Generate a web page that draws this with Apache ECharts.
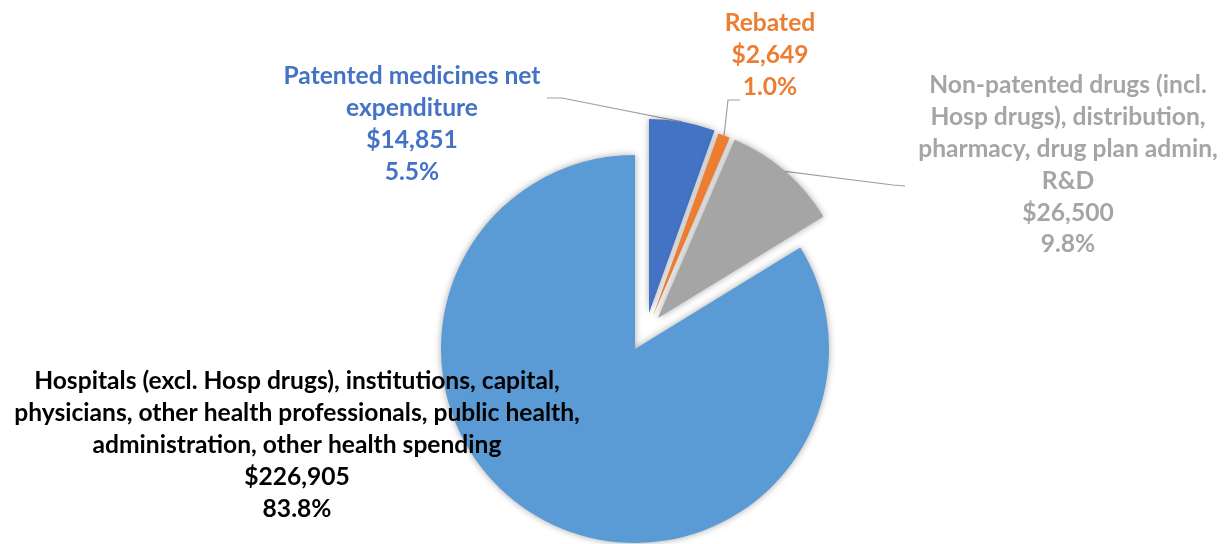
<!DOCTYPE html>
<html>
<head>
<meta charset="utf-8">
<script src="https://cdn.jsdelivr.net/npm/echarts@6/dist/echarts.min.js"></script>
<style>
html,body{margin:0;padding:0;background:#fff;}
#chart{width:1230px;height:544px;}
</style>
</head>
<body>
<div id="chart"></div>
<script>
// ---- data ----
const categories = [
  'Patented medicines net\nexpenditure',
  'Rebated',
  'Non-patented drugs (incl.\nHosp drugs), distribution,\npharmacy, drug plan admin,\nR&D',
  'Hospitals (excl. Hosp drugs), institutions, capital,\nphysicians, other health professionals, public health,\nadministration, other health spending'
];
const values = [14851, 2649, 26500, 226905];

// ---- styles / layout ----
const sliceColors = ['#4472C4', '#ED7D31', '#A5A5A5', '#5B9BD5'];
const labelColors = ['#4472C4', '#ED7D31', '#A5A5A5', '#000000'];
const sliceCenters = [[649, 313], [653, 316], [658, 318], [635, 349]];
const R = 194;
const labelCenters = [[412, 124], [770, 55], [1068, 165], [297, 445]];
const labelLineTails = [
  [[562, 98], [547, 98]],
  [[728, 100], [740, 100]],
  [[893, 185], [905, 186]],
  null
];

const total = values.reduce((a, b) => a + b, 0);
const fmt = (v) => '$' + v.toLocaleString('en-US') + '\n' + (v / total * 100).toFixed(1) + '%';

const series = values.map((_, i) => ({
  type: 'pie',
  center: sliceCenters[i],
  radius: R,
  startAngle: 90,
  clockwise: true,
  silent: true,
  avoidLabelOverlap: false,
  data: values.map((v, j) => j === i ? {
    value: v, name: categories[j],
    itemStyle: { color: sliceColors[j], shadowBlur: 7, shadowColor: 'rgba(0,0,0,0.35)' },
    label: {
      show: true, position: 'outside',
      formatter: (p) => p.name + '\n' + fmt(p.value),
      color: labelColors[j], fontFamily: 'Lato', fontWeight: 'bold', fontSize: 24.6,
      lineHeight: 31.8, align: 'center'
    },
    labelLine: { show: labelLineTails[j] !== null, lineStyle: { color: '#A0A0A0', width: 1.2 } }
  } : {
    value: v, name: categories[j],
    itemStyle: { color: 'rgba(0,0,0,0)' },
    label: { show: false }, labelLine: { show: false }
  }),
  labelLayout: (params) => {
    if (params.dataIndex !== i) return {};
    const out = { x: labelCenters[i][0], y: labelCenters[i][1], align: 'center', verticalAlign: 'middle' };
    if (labelLineTails[i] && params.labelLinePoints) {
      out.labelLinePoints = [params.labelLinePoints[0], labelLineTails[i][0], labelLineTails[i][1]];
    }
    return out;
  }
}));

const chart = echarts.init(document.getElementById('chart'), null, { renderer: 'canvas' });
chart.setOption({
  animation: false,
  backgroundColor: '#ffffff',
  series: series
});
</script>
</body>
</html>
